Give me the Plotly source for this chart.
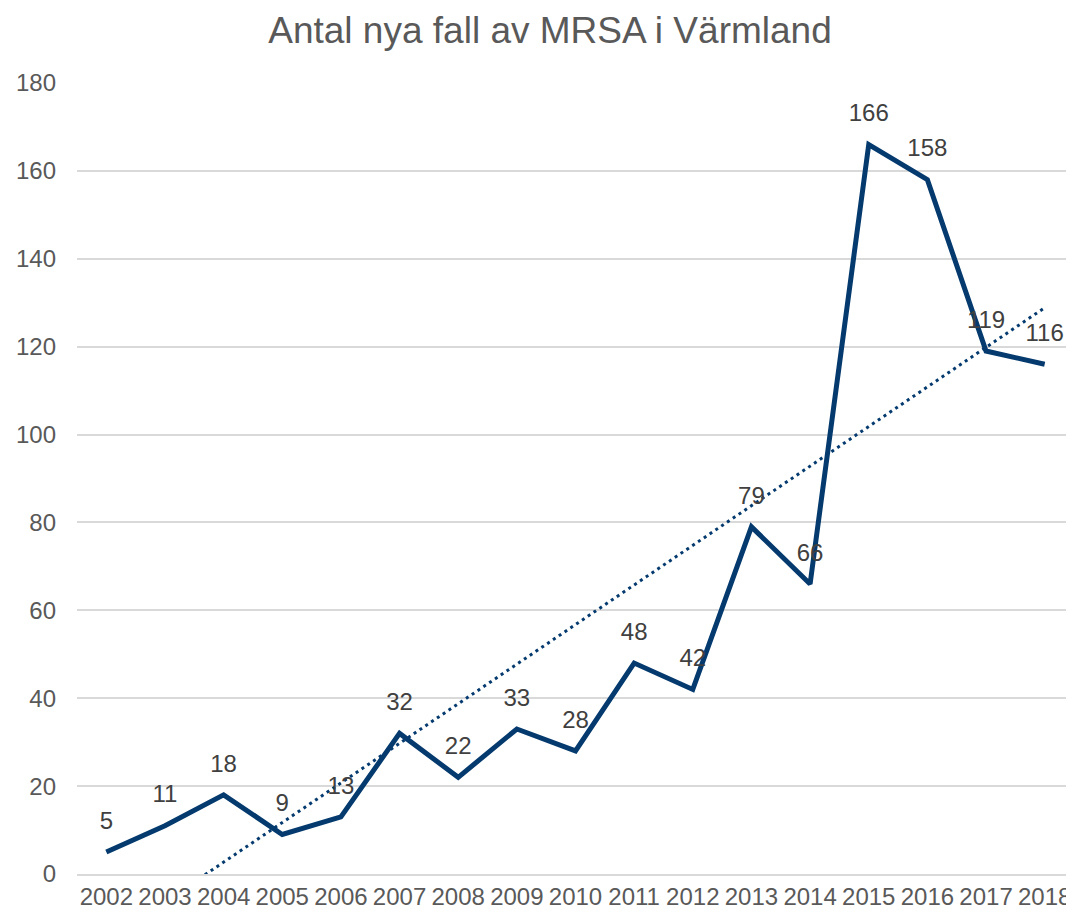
import numpy as np
import plotly.graph_objects as go

years = ["2002", "2003", "2004", "2005", "2006", "2007", "2008", "2009", "2010",
         "2011", "2012", "2013", "2014", "2015", "2016", "2017", "2018"]
cases = [5, 11, 18, 9, 13, 32, 22, 33, 28, 48, 42, 79, 66, 166, 158, 119, 116]
y_ticks = [0, 20, 40, 60, 80, 100, 120, 140, 160, 180]
title_text = "Antal nya fall av MRSA i Värmland"

LINE = "#043a6e"
TXT = "#595959"
GRID = "#d9d9d9"
FONT = "Liberation Sans, Arial, sans-serif"

# page body has an 8px default margin; size the figure to fill the rest
W, H = 1066, 905

# linear trendline (least squares over category index)
idx = np.arange(len(cases))
slope, intercept = np.polyfit(idx, cases, 1)
trend = slope * idx + intercept

fig = go.Figure()
fig.add_trace(go.Scatter(x=years, y=trend, mode="lines",
                         line=dict(color=LINE, width=3, dash="3px,4px"),
                         hoverinfo="skip", showlegend=False))
fig.add_trace(go.Scatter(x=years, y=cases, mode="lines",
                         line=dict(color=LINE, width=5),
                         showlegend=False))
# data labels (invisible markers only set the label offset)
fig.add_trace(go.Scatter(x=years, y=cases, mode="markers+text",
                         text=[str(v) for v in cases], textposition="top center",
                         marker=dict(size=26, color="rgba(0,0,0,0)"),
                         textfont=dict(family=FONT, size=24, color="#404040"),
                         hoverinfo="skip", showlegend=False, cliponaxis=False))

fig.update_layout(
    width=W, height=H,
    paper_bgcolor="white", plot_bgcolor="white",
    margin=dict(l=69, r=0, t=75, b=39),
    title=dict(text=title_text, x=542 / W, xref="container", xanchor="center",
               y=1 - 22 / H, yref="container", yanchor="middle",
               font=dict(family=FONT, size=37, color=TXT)),
    font=dict(family=FONT, color=TXT),
)
fig.update_xaxes(type="category", range=[-0.5, len(years) - 0.5],
                 showgrid=False, showline=True, linecolor=GRID, linewidth=1.5,
                 ticks="", tickfont=dict(family=FONT, size=24, color=TXT),
                 automargin=False, fixedrange=True)
fig.update_yaxes(range=[0, 180], tickvals=y_ticks, showgrid=True,
                 gridcolor=GRID, gridwidth=1.5, zeroline=False,
                 showline=False, ticks="", ticklabelstandoff=20,
                 tickfont=dict(family=FONT, size=24, color=TXT),
                 automargin=False, fixedrange=True)

fig.write_html("out.html")
